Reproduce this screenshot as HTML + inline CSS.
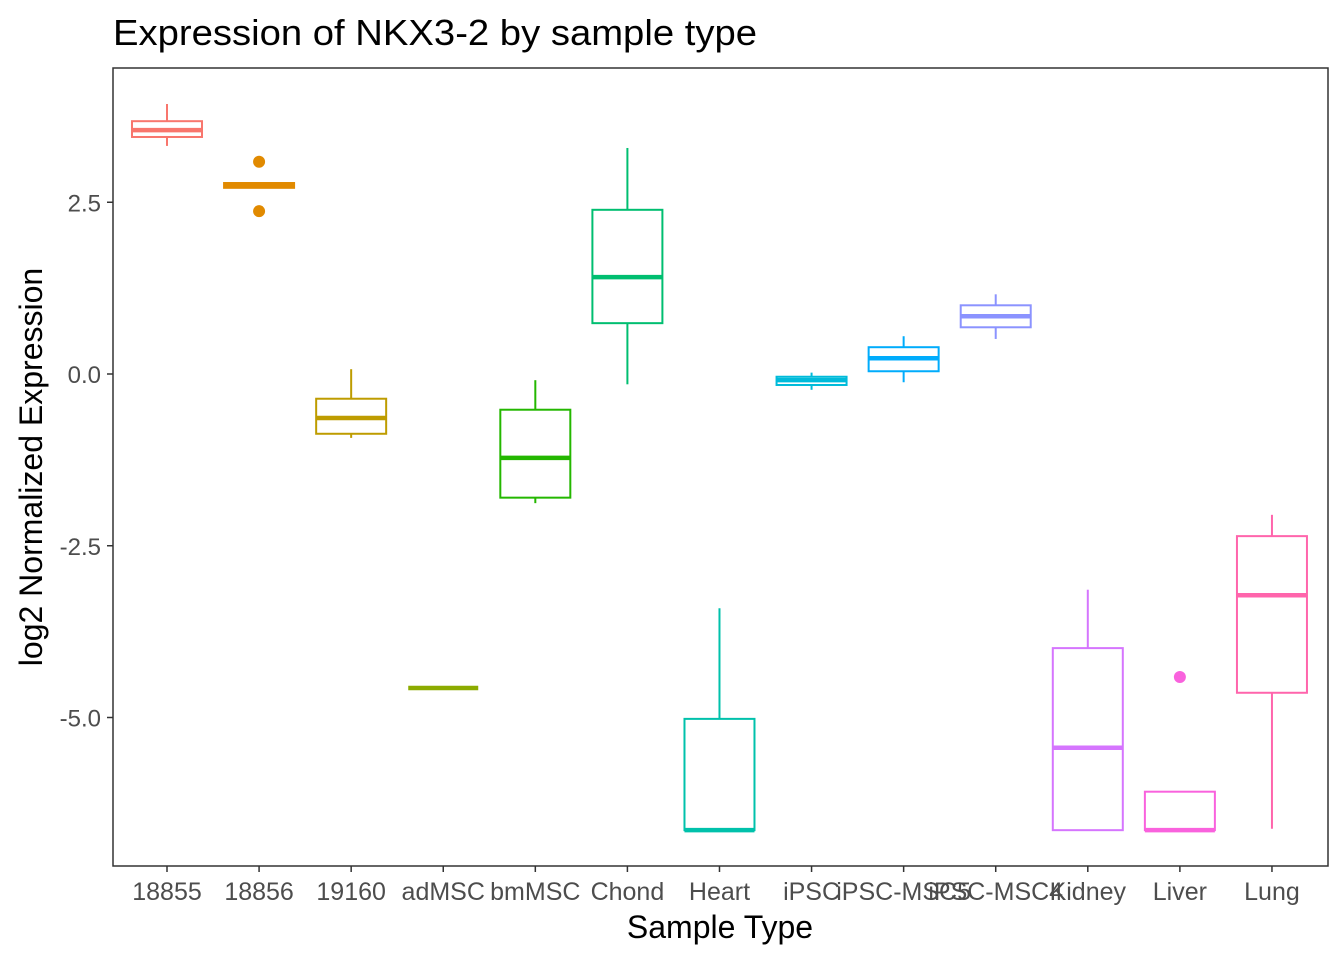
<!DOCTYPE html>
<html><head><meta charset="utf-8"><style>
body{margin:0;background:#fff;font-family:"Liberation Sans",sans-serif}
</style></head><body>
<svg id="chart" width="1344" height="960" xmlns="http://www.w3.org/2000/svg" font-family="Liberation Sans, sans-serif">
<rect width="1344" height="960" fill="#fff"/>
<text x="113" y="45" font-size="36" textLength="644" lengthAdjust="spacingAndGlyphs" fill="#000">Expression of NKX3-2 by sample type</text>
<text x="720" y="938" font-size="32" text-anchor="middle" fill="#000">Sample Type</text>
<text transform="translate(42,467) rotate(-90)" font-size="32" text-anchor="middle" fill="#000">log2 Normalized Expression</text>
<g id="marks"></g>
<rect x="113" y="68" width="1215" height="798" fill="none" stroke="#333" stroke-width="1.5"/>
</svg>
<script>
const categories=["18855","18856","19160","adMSC","bmMSC","Chond","Heart","iPSC","iPSC-MSC5","iPSC-MSC4","Kidney","Liver","Lung"];
const colors=["#F8766D","#E18A00","#BE9C00","#8CAB00","#24B700","#00BE70","#00C1AB","#00BBDA","#00ACFC","#8B93FF","#D575FE","#F962DD","#FF65AC"];
const whiskerHigh=[3.93,2.78,0.07,-4.57,-0.09,3.29,-3.41,0.02,0.55,1.16,-3.14,-6.08,-2.05];
const q3=[3.68,2.78,-0.36,-4.57,-0.52,2.39,-5.02,-0.04,0.39,1.0,-3.99,-6.08,-2.36];
const median=[3.55,2.75,-0.64,-4.57,-1.22,1.41,-6.64,-0.09,0.23,0.84,-5.44,-6.64,-3.22];
const q1=[3.45,2.71,-0.87,-4.57,-1.80,0.74,-6.64,-0.16,0.04,0.68,-6.64,-6.64,-4.64];
const whiskerLow=[3.32,2.71,-0.93,-4.57,-1.88,-0.15,-6.64,-0.23,-0.12,0.51,-6.64,-6.64,-6.62];
const outlierCat=[1,1,11];
const outlierVal=[3.09,2.37,-4.41];
const yTicks=[2.5,0,-2.5,-5];
const yTickLabels=["2.5","0.0","-2.5","-5.0"];
const NS="http://www.w3.org/2000/svg";
const y=v=>374-v*68.7;
const x=i=>167+i*92.08;
const g=document.getElementById('marks');
function mk(t,a){const e=document.createElementNS(NS,t);for(const k in a)e.setAttribute(k,a[k]);g.appendChild(e);return e;}
yTicks.forEach((v,i)=>{
 const t=mk('line',{x1:107,x2:113,y1:y(v),y2:y(v),stroke:'#333','stroke-width':1.5});
 
 
 const l=mk('text',{x:101,y:y(v)+9,'font-size':24,'text-anchor':'end',fill:'#4d4d4d'});
 l.textContent=yTickLabels[i];
 
 
});
categories.forEach((c,i)=>{
 const cx=x(i),col=colors[i],hw=35;
 const t=mk('line',{x1:cx,x2:cx,y1:866,y2:872,stroke:'#333','stroke-width':1.5});
 
 
 const l=mk('text',{x:cx,y:900,'font-size':25,'text-anchor':'middle',fill:'#4d4d4d'});
 l.textContent=c;
 
 
 const w1=mk('line',{x1:cx,x2:cx,y1:y(whiskerHigh[i]),y2:y(q3[i]),stroke:col,'stroke-width':2});
 
 
 const w2=mk('line',{x1:cx,x2:cx,y1:y(q1[i]),y2:y(whiskerLow[i]),stroke:col,'stroke-width':2});
 
 
 const b=mk('rect',{x:cx-hw,y:y(q3[i]),width:2*hw,height:Math.max(0,y(q1[i])-y(q3[i])),fill:'#fff',stroke:col,'stroke-width':2});
 
 
 const m=mk('line',{x1:cx-hw,x2:cx+hw,y1:y(median[i]),y2:y(median[i]),stroke:col,'stroke-width':4.5});
 
 
});
outlierCat.forEach((ci,k)=>{
 const o=mk('circle',{cx:x(ci),cy:y(outlierVal[k]),r:6,fill:colors[ci]});
 
 
});
</script>
</body></html>
